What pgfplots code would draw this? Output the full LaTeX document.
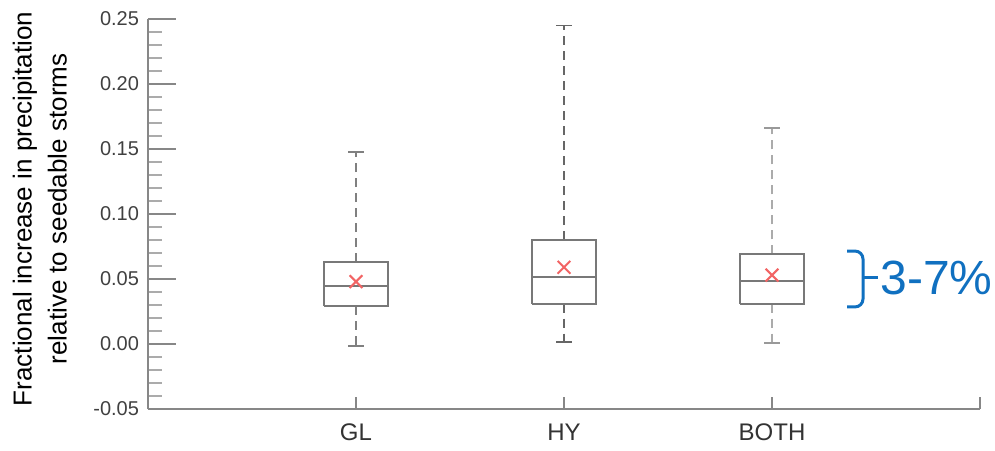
\documentclass[border=0pt]{standalone}
\usepackage{fontspec}
\setmainfont{Liberation Sans}
\usepackage{pgfplots}
\pgfplotsset{compat=1.18}
\definecolor{axisgray}{RGB}{135,135,135}
\definecolor{boxgray}{RGB}{120,120,120}
\definecolor{meanred}{RGB}{242,100,100}
\definecolor{annblue}{RGB}{16,112,192}

\begin{document}
\begin{tikzpicture}
\useasboundingbox (-74pt,-20.5pt) rectangle (423.5pt,204.5pt);
\begin{axis}[
  scale only axis,
  width=416pt, height=195pt,
  xmin=0, xmax=4,
  ymin=-0.05, ymax=0.25,
  axis x line=bottom, axis y line=left,
  axis line style={-, draw=axisgray, line width=1pt},
  tick align=inside,
  xtick=\empty,
  extra x ticks={1,2,3,4},
  extra x tick labels={GL,HY,BOTH,{}},
  extra x tick style={major tick length=6pt},
  ytick={-0.05,0,0.05,0.10,0.15,0.20,0.25},
  minor y tick num=4,
  major tick length=14pt,
  minor tick length=7pt,
  tick style={draw=axisgray, line width=0.9pt},
  minor y tick style={draw=axisgray!70, line width=0.9pt},
  /pgf/number format/assume math mode=true,
  yticklabel style={/pgf/number format/fixed, /pgf/number format/fixed zerofill, /pgf/number format/precision=2, font=\fontsize{10}{11}\selectfont, text=black!75, xshift=-1pt},
  xticklabel style={font=\fontsize{12}{13}\selectfont, text=black!80, yshift=-4pt},
  ylabel={Fractional increase in precipitation\\relative to seedable storms},
  ylabel style={at={(axis description cs:-0.13,0.513)}, anchor=center, align=center, font=\fontsize{13}{17.5}\selectfont},
  clip=false,
  boxline/.style={draw=boxgray, line width=1pt, line join=miter, no marks},
  whisk/.style={no marks, line width=0.9pt, dash pattern=on 4.5pt off 3pt},
  cap/.style={no marks, line width=0.9pt, solid},
]
% ---- GL ----
\addplot[whisk, draw=black!50] coordinates {(1,0.063) (1,0.148)};
\addplot[whisk, draw=black!50] coordinates {(1,0.029) (1,-0.0015)};
\addplot[cap, draw=black!50] coordinates {(0.962,0.148) (1.038,0.148)};
\addplot[cap, draw=black!50] coordinates {(0.962,-0.0015) (1.038,-0.0015)};
\addplot[boxline] coordinates {(0.845,0.029) (1.155,0.029) (1.155,0.063) (0.845,0.063) (0.845,0.029)};
\addplot[boxline] coordinates {(0.845,0.045) (1.155,0.045)};
% ---- HY ----
\addplot[whisk, draw=black!60] coordinates {(2,0.080) (2,0.245)};
\addplot[whisk, draw=black!60] coordinates {(2,0.031) (2,0.0015)};
\addplot[cap, draw=black!60] coordinates {(1.962,0.245) (2.038,0.245)};
\addplot[cap, draw=black!60] coordinates {(1.962,0.0015) (2.038,0.0015)};
\addplot[boxline] coordinates {(1.845,0.031) (2.155,0.031) (2.155,0.080) (1.845,0.080) (1.845,0.031)};
\addplot[boxline] coordinates {(1.845,0.0515) (2.155,0.0515)};
% ---- BOTH ----
\addplot[whisk, draw=black!33, line width=1.2pt] coordinates {(3,0.069) (3,0.166)};
\addplot[whisk, draw=black!33, line width=1.2pt] coordinates {(3,0.031) (3,0.001)};
\addplot[cap, draw=black!40] coordinates {(2.962,0.166) (3.038,0.166)};
\addplot[cap, draw=black!40] coordinates {(2.962,0.001) (3.038,0.001)};
\addplot[boxline] coordinates {(2.845,0.031) (3.155,0.031) (3.155,0.069) (2.845,0.069) (2.845,0.031)};
\addplot[boxline] coordinates {(2.845,0.0485) (3.155,0.0485)};
% ---- means ----
\addplot[only marks, mark=x, mark size=4.5pt, draw=meanred, line width=1pt]
  coordinates {(1,0.048) (2,0.059) (3,0.053)};
% ---- annotation ----
\draw[annblue, line width=1.5pt, rounded corners=4pt]
  (axis cs:3.361,0.0715) -- (axis cs:3.4375,0.0715) -- (axis cs:3.4375,0.0285) -- (axis cs:3.361,0.0285);
\draw[annblue, line width=1.5pt] (axis cs:3.4375,0.0508) -- (axis cs:3.51,0.0508);
\node[anchor=west, text=annblue, font=\fontsize{24}{26}\selectfont, inner sep=0pt]
  at (axis cs:3.52,0.0505) {3-7\%};
\end{axis}
\end{tikzpicture}
\end{document}
